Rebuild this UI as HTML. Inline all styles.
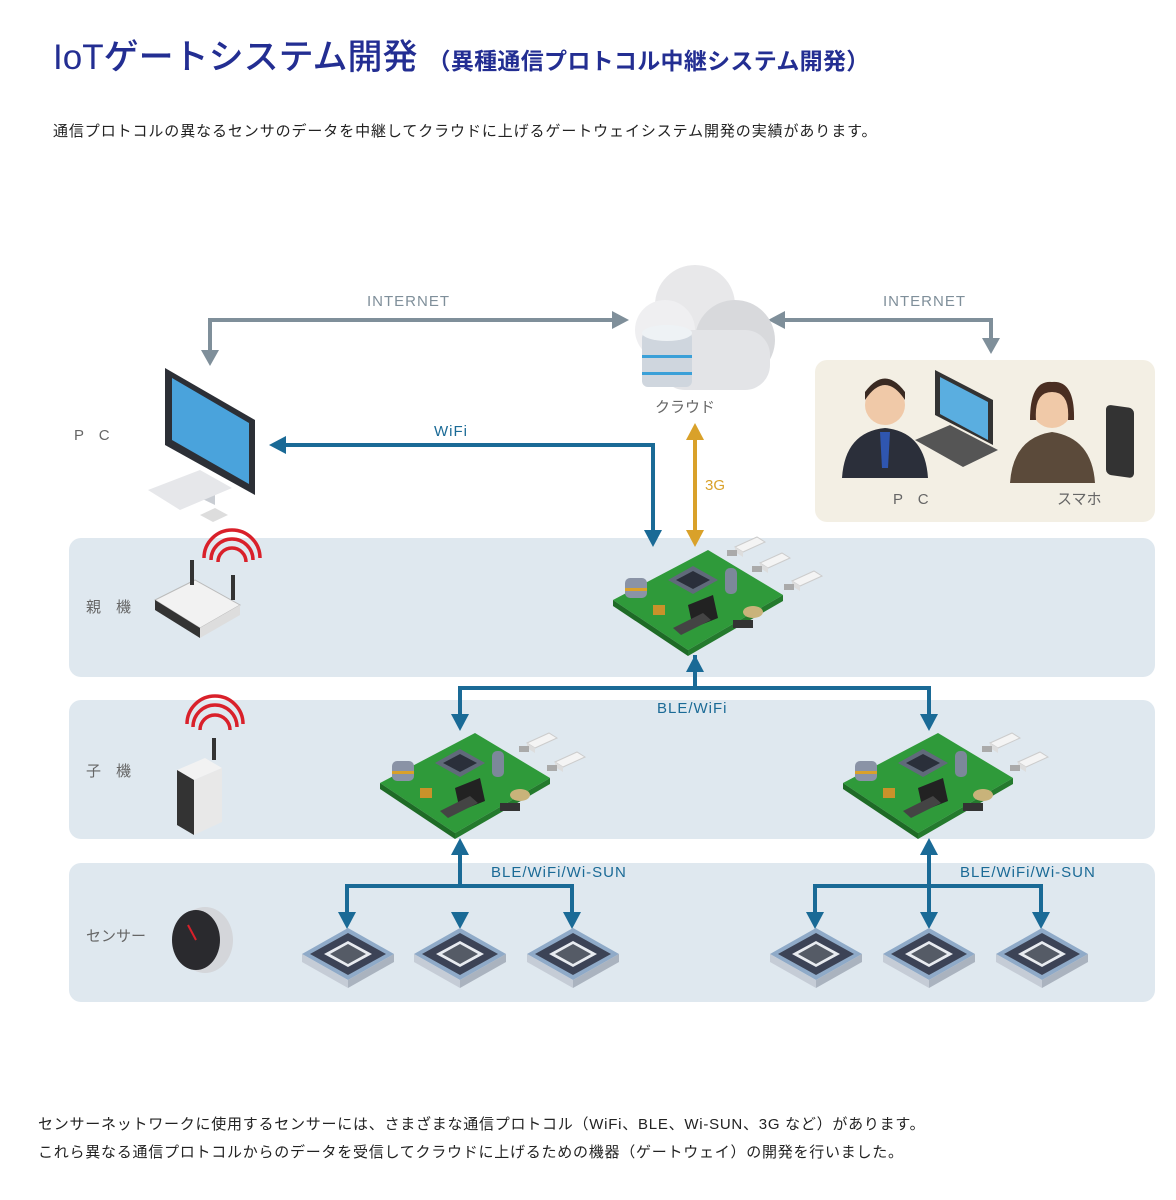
<!DOCTYPE html>
<html><head><meta charset="utf-8"><style>
html,body{margin:0;padding:0;background:#fff;}
body{width:1176px;height:1200px;position:relative;overflow:hidden;font-family:"Liberation Sans","Noto Sans CJK JP",sans-serif;}
.t{position:absolute;white-space:nowrap;}
</style></head><body>
<div class="t" style="left:53px;top:29px;font-size:35px;color:#232e92;font-weight:500;">IoTゲートシステム開発<span style="font-size:23px;font-weight:700;margin-left:10px;letter-spacing:0.3px">（異種通信プロトコル中継システム開発）</span></div>
<div class="t" style="left:53px;top:120px;font-size:15px;color:#222;letter-spacing:0.9px">通信プロトコルの異なるセンサのデータを中継してクラウドに上げるゲートウェイシステム開発の実績があります。</div>
<div class="t" style="left:38px;top:1111px;font-size:15px;color:#222;line-height:28px;letter-spacing:0.75px">センサーネットワークに使用するセンサーには、さまざまな通信プロトコル（WiFi、BLE、Wi-SUN、3G など）があります。<br>これら異なる通信プロトコルからのデータを受信してクラウドに上げるための機器（ゲートウェイ）の開発を行いました。</div>

<svg width="1176" height="1200" style="position:absolute;left:0;top:0" xmlns="http://www.w3.org/2000/svg">
<defs>
<g id="pcb">
 <polygon points="0,50 95,0 170,45 75,100" fill="#2f9a3a"/>
 <polygon points="0,50 75,100 75,106 0,56" fill="#1e6b26"/>
 <polygon points="75,100 170,45 170,51 75,106" fill="#247a2d"/>
 <polygon points="55,30 80,16 105,30 80,44" fill="#606a7a"/>
 <polygon points="63,30 80,21 97,30 80,39" fill="#2a2f3a"/>
 <rect x="12" y="28" width="22" height="20" rx="5" fill="#8a93a6"/>
 <rect x="12" y="38" width="22" height="3" fill="#d9a12a"/>
 <rect x="112" y="18" width="12" height="26" rx="5" fill="#7c889a"/>
 <polygon points="75,55 100,45 105,68 80,78" fill="#222"/>
 <polygon points="60,78 90,63 98,70 68,85" fill="#444"/>
 <ellipse cx="140" cy="62" rx="10" ry="6" fill="#c9b37a"/>
 <rect x="120" y="70" width="20" height="8" fill="#333"/>
 <rect x="40" y="55" width="12" height="10" fill="#c9922a"/>
</g>
<g id="usb">
 <polygon points="0,10 22,0 30,5 8,15" fill="#f4f4f4" stroke="#ccc"/>
 <polygon points="0,10 8,15 8,20 0,15" fill="#ddd"/>
 <rect x="-8" y="13" width="10" height="6" fill="#aaa"/>
</g>
<g id="chip">
 <polygon points="0,26 46,0 92,26 46,52" fill="#8faac8"/>
 <polygon points="8,26 46,5 84,26 46,47" fill="#3c4356"/>
 <polygon points="22,26 46,13 70,26 46,39" fill="#e8ebf0"/>
 <polygon points="28,26 46,16 64,26 46,36" fill="#555b66"/>
 <polygon points="0,26 46,52 46,60 0,34" fill="#c5ccd6"/>
 <polygon points="46,52 92,26 92,34 46,60" fill="#aab3bf"/>
</g>
</defs>

<rect x="69" y="538" width="1086" height="139" rx="12" fill="#dfe8ef"/>
<rect x="69" y="700" width="1086" height="139" rx="12" fill="#dfe8ef"/>
<rect x="69" y="863" width="1086" height="139" rx="12" fill="#dfe8ef"/>
<rect x="815" y="360" width="340" height="162" rx="12" fill="#f3efe4"/>

<g stroke="#7f8f9a" stroke-width="4" fill="none">
 <polyline points="210,350 210,320 612,320"/>
 <polyline points="785,320 991,320 991,338"/>
</g>
<g fill="#7f8f9a">
 <polygon points="201,350 219,350 210,366"/>
 <polygon points="612,311 612,329 629,320"/>
 <polygon points="785,311 785,329 768,320"/>
 <polygon points="982,338 1000,338 991,354"/>
</g>
<g font-size="15" fill="#7f8f9a" letter-spacing="1">
 <text x="367" y="306">INTERNET</text>
 <text x="883" y="306">INTERNET</text>
</g>

<g stroke="#1a6a96" stroke-width="4" fill="none">
 <polyline points="286,445 653,445 653,530"/>
 <polyline points="695,655 695,688"/>
 <polyline points="460,715 460,688 929,688 929,715"/>
 <polyline points="460,855 460,886"/>
 <polyline points="347,912 347,886 572,886 572,912"/>
 <polyline points="929,855 929,912"/>
 <polyline points="815,912 815,886 1041,886 1041,912"/>
</g>
<g fill="#1a6a96">
 <polygon points="286,436 286,454 269,445"/>
 <polygon points="644,530 662,530 653,547"/>
 <polygon points="686,672 704,672 695,655"/>
 <polygon points="451,714 469,714 460,731"/>
 <polygon points="920,714 938,714 929,731"/>
 <polygon points="451,855 469,855 460,838"/>
 <polygon points="920,855 938,855 929,838"/>
 <polygon points="338,912 356,912 347,929"/>
 <polygon points="451,912 469,912 460,929"/>
 <polygon points="563,912 581,912 572,929"/>
 <polygon points="806,912 824,912 815,929"/>
 <polygon points="920,912 938,912 929,929"/>
 <polygon points="1032,912 1050,912 1041,929"/>
</g>
<line x1="695" y1="438" x2="695" y2="530" stroke="#d9a12a" stroke-width="4"/>
<polygon points="686,440 704,440 695,423" fill="#d9a12a"/>
<polygon points="686,530 704,530 695,547" fill="#d9a12a"/>

<g font-size="15" fill="#1a6a96" letter-spacing="1">
 <text x="434" y="436">WiFi</text>
 <text x="657" y="713">BLE/WiFi</text>
 <text x="491" y="877">BLE/WiFi/Wi-SUN</text>
 <text x="960" y="877">BLE/WiFi/Wi-SUN</text>
</g>
<text x="705" y="490" font-size="15" fill="#d9a12a">3G</text>

<g font-size="15" fill="#666">
 <text x="74" y="440">P　C</text>
 <text x="86" y="612">親　機</text>
 <text x="86" y="776">子　機</text>
 <text x="86" y="941">センサー</text>
 <text x="655" y="412">クラウド</text>
 <text x="893" y="504">P　C</text>
 <text x="1057" y="504">スマホ</text>
</g>

<g>
 <circle cx="695" cy="305" r="40" fill="#e8e8ea"/>
 <circle cx="735" cy="340" r="40" fill="#d8d9dc"/>
 <circle cx="665" cy="330" r="30" fill="#efeff1"/>
 <rect x="660" y="330" width="110" height="60" rx="25" fill="#e3e4e7"/>
 <rect x="642" y="332" width="50" height="55" rx="6" fill="#cfd6de"/>
 <ellipse cx="667" cy="333" rx="25" ry="8" fill="#eef2f5"/>
 <rect x="642" y="355" width="50" height="3" fill="#3aa0d8"/>
 <rect x="642" y="372" width="50" height="3" fill="#3aa0d8"/>
</g>

<g>
 <polygon points="165,368 255,420 255,495 165,445" fill="#2c2f36"/>
 <polygon points="172,378 249,423 249,484 172,440" fill="#4aa3dc"/>
 <polygon points="190,480 215,492 215,505 190,493" fill="#c9cdd3"/>
 <polygon points="148,490 200,470 232,488 180,510" fill="#e6e7ea"/>
 <polygon points="200,515 215,508 228,515 213,522" fill="#ddd"/>
</g>
<g>
 <circle cx="885" cy="405" r="20" fill="#f0c9a8"/>
 <path d="M865 400 Q885 370 905 400 L905 392 Q885 365 865 392Z" fill="#3a2a22"/>
 <path d="M842 478 Q845 432 885 428 Q925 432 928 478Z" fill="#2b2f3a"/>
 <polygon points="880,432 890,432 888,468 882,468" fill="#2f56b0"/>
 <polygon points="935,370 993,400 993,445 935,415" fill="#333"/>
 <polygon points="940,377 988,402 988,440 940,414" fill="#5aaee0"/>
 <polygon points="915,440 950,425 998,450 963,467" fill="#555"/>
 <circle cx="1052" cy="408" r="20" fill="#f0c9a8"/>
 <path d="M1030 420 Q1030 380 1052 382 Q1075 380 1074 420 L1068 420 Q1070 392 1052 392 Q1034 392 1036 420Z" fill="#4a2e22"/>
 <path d="M1010 483 Q1013 438 1052 432 Q1092 438 1095 483Z" fill="#5b4a3a"/>
 <rect x="1106" y="404" width="28" height="70" rx="5" fill="#333" transform="skewY(8) translate(0,-155)"/>
</g>

<g>
 <polygon points="155,600 195,580 240,605 200,628" fill="#f2f2f2" stroke="#bbb"/>
 <polygon points="155,600 200,628 200,638 155,610" fill="#333"/>
 <polygon points="200,628 240,605 240,615 200,638" fill="#ddd"/>
 <line x1="192" y1="585" x2="192" y2="560" stroke="#333" stroke-width="4"/>
 <line x1="233" y1="600" x2="233" y2="575" stroke="#333" stroke-width="4"/>
 <path d="M218 562 a14 14 0 0 1 28 0 M211 560 a21 21 0 0 1 42 0 M204 558 a28 28 0 0 1 56 0" stroke="#d9202a" stroke-width="3.5" fill="none"/>
</g>
<g>
 <polygon points="177,770 205,758 222,768 194,780" fill="#f2f2f2"/>
 <polygon points="177,770 194,780 194,835 177,825" fill="#333"/>
 <polygon points="194,780 222,768 222,822 194,835" fill="#e8e8e8"/>
 <line x1="214" y1="760" x2="214" y2="738" stroke="#333" stroke-width="4"/>
 <path d="M200 730 a15 15 0 0 1 30 0 M193 727 a22 22 0 0 1 44 0 M187 724 a28 28 0 0 1 56 0" stroke="#d9202a" stroke-width="3.5" fill="none"/>
</g>
<g>
 <ellipse cx="205" cy="940" rx="28" ry="33" fill="#d4d6da"/>
 <ellipse cx="196" cy="940" rx="24" ry="30" fill="#2a2a2e"/>
 <line x1="196" y1="940" x2="188" y2="925" stroke="#d9202a" stroke-width="2"/>
</g>

<use href="#pcb" x="613" y="550"/>
<use href="#usb" x="735" y="537"/>
<use href="#usb" x="760" y="553"/>
<use href="#usb" x="792" y="571"/>
<use href="#pcb" x="380" y="733"/>
<use href="#usb" x="527" y="733"/>
<use href="#usb" x="555" y="752"/>
<use href="#pcb" x="843" y="733"/>
<use href="#usb" x="990" y="733"/>
<use href="#usb" x="1018" y="752"/>

<use href="#chip" x="302" y="928"/>
<use href="#chip" x="414" y="928"/>
<use href="#chip" x="527" y="928"/>
<use href="#chip" x="770" y="928"/>
<use href="#chip" x="883" y="928"/>
<use href="#chip" x="996" y="928"/>
</svg>
</body></html>
